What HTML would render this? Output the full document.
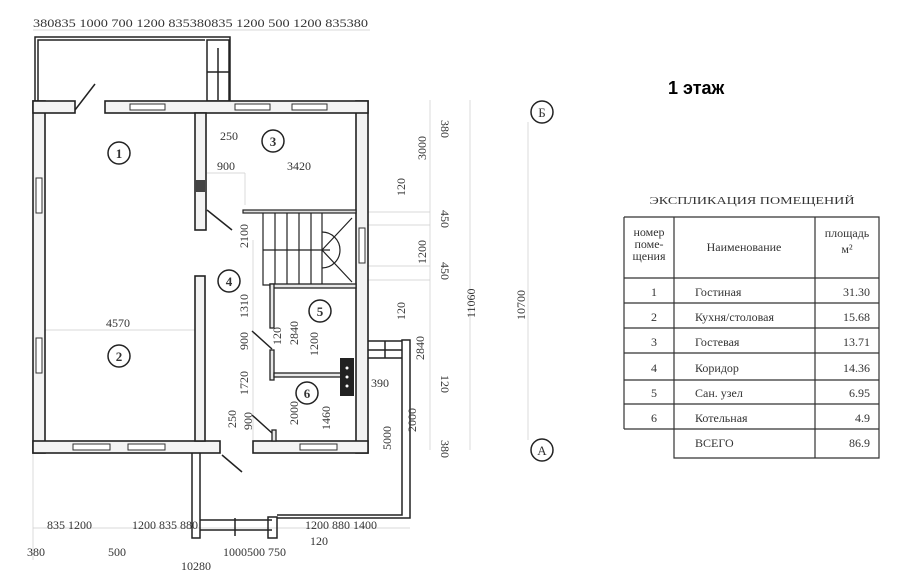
<!DOCTYPE html>
<html><head><meta charset="utf-8"><style>
html,body{margin:0;padding:0;background:#fff;}
svg{display:block;}
text{font-family:"Liberation Serif",serif;fill:#333;}
</style></head><body>
<svg width="900" height="573" viewBox="0 0 900 573" xmlns="http://www.w3.org/2000/svg">
<rect width="900" height="573" fill="#fff"/>
<g stroke="#ccc" stroke-width="0.7" fill="none">
<line x1="33" y1="30" x2="370" y2="30"/>
<line x1="33" y1="528" x2="410" y2="528"/>
<line x1="33" y1="100" x2="33" y2="560"/>
<line x1="430" y1="100" x2="430" y2="450"/>
<line x1="470" y1="100" x2="470" y2="450"/>
<line x1="528" y1="122" x2="528" y2="440"/>
<line x1="368" y1="212" x2="430" y2="212"/><line x1="368" y1="225" x2="430" y2="225"/>
<line x1="368" y1="266" x2="430" y2="266"/><line x1="368" y1="280" x2="430" y2="280"/>
<line x1="207" y1="173" x2="245" y2="173"/><line x1="245" y1="173" x2="245" y2="205"/>
<line x1="45" y1="330" x2="195" y2="330"/>
<line x1="253" y1="240" x2="253" y2="440"/>
</g>
<g stroke="#222" fill="none" stroke-width="1.5">
<path d="M35 101 V37 H230 V101"/>
<path d="M38 101 V40 H205"/>
<rect x="207" y="40" width="22" height="61"/>
<line x1="218" y1="48" x2="218" y2="100"/>
<line x1="207" y1="72" x2="229" y2="72"/>
</g>
<g fill="#f3f3f3" stroke="#222" stroke-width="1.6">
<rect x="33" y="101" width="12" height="352"/>
<rect x="356" y="101" width="12" height="352"/>
<rect x="33" y="101" width="42" height="12"/>
<rect x="105" y="101" width="263" height="12"/>
<rect x="33" y="441" width="187" height="12"/>
<rect x="253" y="441" width="115" height="12"/>
<rect x="195" y="113" width="11" height="117"/>
<rect x="195" y="276" width="10" height="165"/>
</g>
<rect x="195" y="180" width="10" height="12" fill="#444"/>
<g fill="#fff" stroke="#333" stroke-width="1">
<rect x="130" y="104" width="35" height="6"/><rect x="235" y="104" width="35" height="6"/><rect x="292" y="104" width="35" height="6"/>
<rect x="36" y="178" width="6" height="35"/><rect x="36" y="338" width="6" height="35"/>
<rect x="73" y="444" width="37" height="6"/><rect x="128" y="444" width="37" height="6"/>
<rect x="300" y="444" width="37" height="6"/><rect x="359" y="228" width="6" height="35"/>
</g>
<g stroke="#222" stroke-width="1.5">
<line x1="75" y1="110" x2="95" y2="84"/>
<line x1="207" y1="210" x2="232" y2="230"/>
<line x1="222" y1="455" x2="242" y2="472"/>
<line x1="252" y1="331" x2="272" y2="349"/>
<line x1="252" y1="415" x2="272" y2="433"/>
</g>
<g stroke="#222" stroke-width="1.2" fill="none">
<rect x="243" y="210" width="113" height="3" fill="#ddd"/>
<path d="M263 213 V285 H356"/>
<line x1="263" y1="250" x2="330" y2="250"/>
<line x1="275" y1="213" x2="275" y2="285"/><line x1="287" y1="213" x2="287" y2="285"/>
<line x1="299" y1="213" x2="299" y2="285"/><line x1="311" y1="213" x2="311" y2="285"/>
<line x1="322" y1="213" x2="322" y2="285"/>
<path d="M322 250 L352 218 M322 250 L352 282"/>
<path d="M322 232 A18 18 0 0 1 322 268"/>
</g>
<g fill="#e8e8e8" stroke="#222" stroke-width="1.3">
<rect x="270" y="284" width="86" height="4"/>
<rect x="270" y="284" width="4" height="44"/>
<rect x="270" y="350" width="4" height="30"/>
<rect x="274" y="373" width="72" height="4"/>
<rect x="272" y="430" width="4" height="11"/>
</g>
<rect x="340" y="358" width="14" height="38" fill="#222"/>
<g fill="#fff"><circle cx="347" cy="368" r="1.5"/><circle cx="347" cy="377" r="1.5"/><circle cx="347" cy="386" r="1.5"/></g>
<g stroke="#222" fill="none" stroke-width="1.5">
<path d="M192 453 V538 H200 V453"/>
<path d="M200 520 H272 M200 530 H272"/>
<rect x="268" y="517" width="9" height="21"/>
<line x1="235" y1="518" x2="235" y2="536"/>
<path d="M277 518 H410 V340 H402 V515 H277"/>
<path d="M368 341 H402 M368 350 H402 M368 358 H402"/>
<line x1="385" y1="341" x2="385" y2="358"/>
</g>
<g fill="none" stroke="#222" stroke-width="1.5">
<circle cx="119" cy="153" r="11"/><circle cx="119" cy="356" r="11"/><circle cx="273" cy="141" r="11"/>
<circle cx="229" cy="281" r="11"/><circle cx="320" cy="311" r="11"/><circle cx="307" cy="393" r="11"/>
<circle cx="542" cy="112" r="11"/><circle cx="542" cy="450" r="11"/>
</g>
<g font-size="13" text-anchor="middle" style="font-family:'Liberation Sans',sans-serif;font-weight:bold">
<text x="119" y="158">1</text><text x="119" y="361">2</text><text x="273" y="146">3</text>
<text x="229" y="286">4</text><text x="320" y="316">5</text><text x="307" y="398">6</text>
</g>
<g font-size="13" text-anchor="middle"><text x="542" y="117">Б</text><text x="542" y="455">А</text></g>
<g font-size="12">
<text x="33" y="27" textLength="335" lengthAdjust="spacingAndGlyphs">380835 1000 700  1200  835380835  1200 500 1200  835380</text>
<text x="47" y="529">835 1200</text>
<text x="132" y="529">1200 835 880</text>
<text x="305" y="529">1200 880 1400</text>
<text x="310" y="545">120</text>
<text x="27" y="556">380</text><text x="108" y="556">500</text>
<text x="223" y="556">1000500 750</text>
<text x="181" y="570">10280</text>
<text x="106" y="327">4570</text>
<text x="220" y="140">250</text><text x="217" y="170">900</text><text x="287" y="170">3420</text>
<text x="371" y="387">390</text>
</g>
<g font-size="12">
<text transform="translate(441,120) rotate(90)">380</text>
<text transform="translate(426,160) rotate(-90)">3000</text>
<text transform="translate(405,196) rotate(-90)">120</text>
<text transform="translate(441,210) rotate(90)">450</text>
<text transform="translate(426,264) rotate(-90)">1200</text>
<text transform="translate(441,262) rotate(90)">450</text>
<text transform="translate(475,318) rotate(-90)">11060</text>
<text transform="translate(525,320) rotate(-90)">10700</text>
<text transform="translate(405,320) rotate(-90)">120</text>
<text transform="translate(424,360) rotate(-90)">2840</text>
<text transform="translate(441,375) rotate(90)">120</text>
<text transform="translate(416,432) rotate(-90)">2000</text>
<text transform="translate(391,450) rotate(-90)">5000</text>
<text transform="translate(441,440) rotate(90)">380</text>
<text transform="translate(248,248) rotate(-90)">2100</text>
<text transform="translate(248,318) rotate(-90)">1310</text>
<text transform="translate(248,350) rotate(-90)">900</text>
<text transform="translate(248,395) rotate(-90)">1720</text>
<text transform="translate(236,428) rotate(-90)">250</text>
<text transform="translate(252,430) rotate(-90)">900</text>
<text transform="translate(281,345) rotate(-90)">120</text>
<text transform="translate(298,345) rotate(-90)">2840</text>
<text transform="translate(318,356) rotate(-90)">1200</text>
<text transform="translate(298,425) rotate(-90)">2000</text>
<text transform="translate(330,430) rotate(-90)">1460</text>
</g>
<text x="668" y="94" font-size="18" style="font-family:'Liberation Sans',sans-serif;font-weight:bold;fill:#000">1 этаж</text>
<text x="752" y="204" font-size="11" text-anchor="middle" textLength="205" lengthAdjust="spacingAndGlyphs">ЭКСПЛИКАЦИЯ ПОМЕЩЕНИЙ</text>
<g stroke="#333" stroke-width="1.2" fill="none">
<path d="M624 217 H879 V458 H674 V217 M624 217 V429 M815 217 V458"/>
<path d="M624 278 H879 M624 303 H879 M624 328 H879 M624 353 H879 M624 380 H879 M624 404 H879 M624 429 H879"/>
</g>
<g font-size="12">
<text x="649" y="236" text-anchor="middle">номер</text><text x="649" y="248" text-anchor="middle">поме-</text><text x="649" y="260" text-anchor="middle">щения</text>
<text x="744" y="251" text-anchor="middle">Наименование</text>
<text x="847" y="237" text-anchor="middle">площадь</text><text x="847" y="253" text-anchor="middle">м²</text>
<g text-anchor="middle"><text x="654" y="296">1</text><text x="654" y="321">2</text><text x="654" y="346">3</text><text x="654" y="372">4</text><text x="654" y="397">5</text><text x="654" y="422">6</text></g>
<text x="695" y="296">Гостиная</text><text x="695" y="321">Кухня/столовая</text><text x="695" y="346">Гостевая</text><text x="695" y="372">Коридор</text><text x="695" y="397">Сан. узел</text><text x="695" y="422">Котельная</text><text x="695" y="447">ВСЕГО</text>
<g text-anchor="end"><text x="870" y="296">31.30</text><text x="870" y="321">15.68</text><text x="870" y="346">13.71</text><text x="870" y="372">14.36</text><text x="870" y="397">6.95</text><text x="870" y="422">4.9</text><text x="870" y="447">86.9</text></g>
</g>
</svg>
</body></html>
